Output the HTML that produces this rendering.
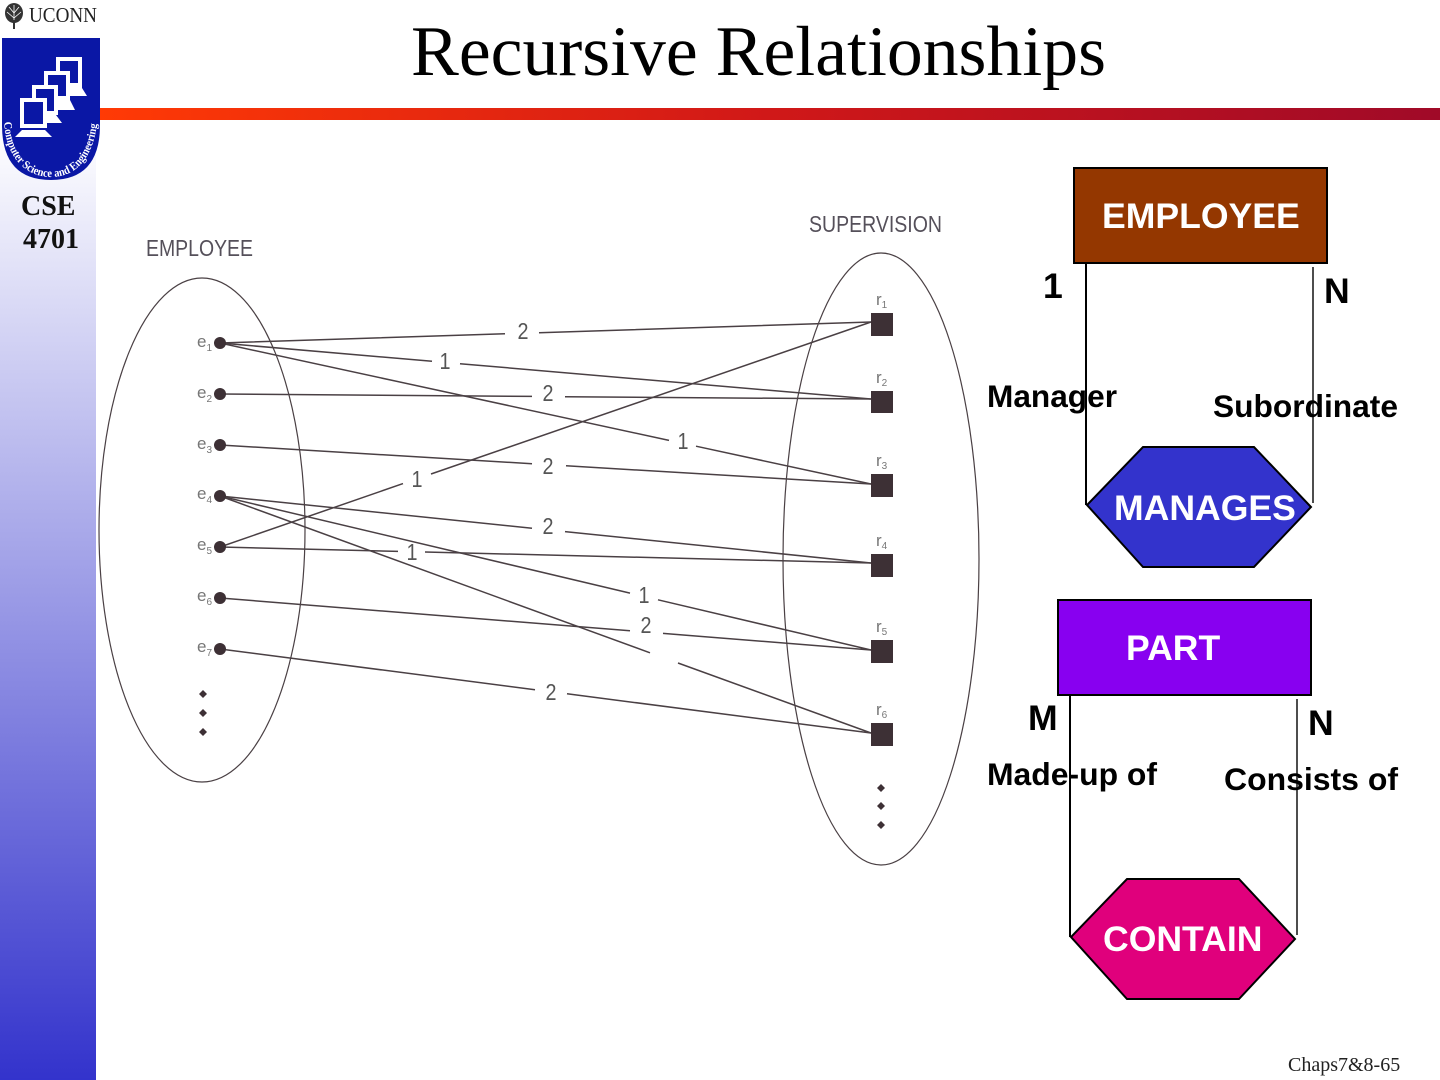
<!DOCTYPE html>
<html><head><meta charset="utf-8"><style>
html,body{margin:0;padding:0;background:#fff}
svg{display:block}
</style></head><body>
<svg xmlns="http://www.w3.org/2000/svg" width="1440" height="1080" viewBox="0 0 1440 1080">
<defs>
<linearGradient id="side" x1="0" y1="0" x2="0" y2="1"><stop offset="0" stop-color="#ffffff"/><stop offset="0.12" stop-color="#ffffff"/><stop offset="1" stop-color="#3333cc"/></linearGradient>
<linearGradient id="bar" x1="0" y1="0" x2="1" y2="0"><stop offset="0" stop-color="#ff3a05"/><stop offset="0.5" stop-color="#d01818"/><stop offset="1" stop-color="#a00a28"/></linearGradient>
<path id="arc" d="M4 122C6 160 28 177 51 177C76 177 96 158 98 112"/>
</defs>
<rect width="1440" height="1080" fill="#fff"/>
<rect x="0" y="0" width="96" height="1080" fill="url(#side)"/>
<rect x="100" y="108" width="1340" height="12" fill="url(#bar)"/>
<rect x="0" y="0" width="97" height="38" fill="#fff"/>
<!-- logo -->
<g fill="#333"><ellipse cx="14" cy="13" rx="9" ry="10"/><rect x="13" y="20" width="2" height="9"/></g>
<g stroke="#fff" stroke-width="0.8" fill="none"><path d="M14 5V20M9 7L14 13L19 7M7 12L14 18L21 12"/></g>
<text x="29" y="22" font-family="Liberation Serif" font-size="21" fill="#222" textLength="68" lengthAdjust="spacingAndGlyphs">UCONN</text>
<path d="M2 38H100V125Q100 180 51 180Q2 180 2 125Z" fill="#0a17a5"/>
<g fill="#fff">
<path d="M56 57H82V88H56Z"/><path d="M70 88H82L87 96H62Z"/>
</g>
<rect x="60" y="61" width="18" height="22" fill="#0a17a5"/>
<g fill="#fff"><path d="M44 71H70V100H44Z"/><path d="M58 100H70L75 110H50Z"/></g>
<rect x="48" y="75" width="18" height="21" fill="#0a17a5"/>
<g fill="#fff"><path d="M32 85H58V115H32Z"/><path d="M46 115H56L62 123H38Z"/></g>
<rect x="36" y="89" width="18" height="22" fill="#0a17a5"/>
<g fill="#fff"><path d="M20 98H47V128H20Z"/><path d="M22 130H45L52 137H15Z"/></g>
<rect x="24" y="102" width="19" height="22" fill="#0a17a5"/>
<text font-family="Liberation Serif" font-size="11.5" font-weight="bold" fill="#fff"><textPath href="#arc" textLength="158" lengthAdjust="spacingAndGlyphs">Computer Science and Engineering</textPath></text>
<g font-family="Liberation Serif" font-weight="bold" font-size="28" fill="#111">
<text x="21" y="215">CSE</text>
<text x="23" y="248">4701</text>
</g>
<text x="411" y="75" font-family="Liberation Serif" font-size="71" fill="#000" textLength="695" lengthAdjust="spacingAndGlyphs">Recursive Relationships</text>

<!-- left diagram -->
<g fill="none" stroke="#4a4044" stroke-width="1.2">
<ellipse cx="202" cy="530" rx="103" ry="252"/>
<ellipse cx="881" cy="559" rx="98" ry="306"/>
</g>
<g stroke="#4a4044" stroke-width="1.5" fill="none">
<path d="M220 343L505 333.8M539 332.7L871 322"/>
<path d="M220 343L432 361.3M460 363.7L871 399"/>
<path d="M220 343L669 440.4M696 446.2L871 484"/>
<path d="M220 394L532 396.4M565 396.7L871 399"/>
<path d="M220 445L532 463.7M566 465.8L871 484"/>
<path d="M220 496L532 528.2M565 531.6L871 563"/>
<path d="M220 496L630 593.1M658 599.8L871 650"/>
<path d="M220 496L650 652.8M678 663L871 733"/>
<path d="M220 547L403 483.6M431 474L871 322"/>
<path d="M220 547L398 551.4M425 552L871 563"/>
<path d="M220 598L630 630.8M663 633.4L871 650"/>
<path d="M220 649L535 689.7M567 693.8L871 733"/>
</g>
<g font-family="Liberation Sans" font-size="23" fill="#555" text-anchor="middle">
<text x="523" y="339" textLength="11" lengthAdjust="spacingAndGlyphs">2</text>
<text x="445" y="369" textLength="11" lengthAdjust="spacingAndGlyphs">1</text>
<text x="683" y="449" textLength="11" lengthAdjust="spacingAndGlyphs">1</text>
<text x="548" y="401" textLength="11" lengthAdjust="spacingAndGlyphs">2</text>
<text x="548" y="474" textLength="11" lengthAdjust="spacingAndGlyphs">2</text>
<text x="548" y="534" textLength="11" lengthAdjust="spacingAndGlyphs">2</text>
<text x="644" y="603" textLength="11" lengthAdjust="spacingAndGlyphs">1</text>
<text x="417" y="487" textLength="11" lengthAdjust="spacingAndGlyphs">1</text>
<text x="412" y="560" textLength="11" lengthAdjust="spacingAndGlyphs">1</text>
<text x="646" y="633" textLength="11" lengthAdjust="spacingAndGlyphs">2</text>
<text x="551" y="700" textLength="11" lengthAdjust="spacingAndGlyphs">2</text>
</g>
<g fill="#3d3035">
<circle cx="220" cy="343" r="6"/><circle cx="220" cy="394" r="6"/><circle cx="220" cy="445" r="6"/><circle cx="220" cy="496" r="6"/><circle cx="220" cy="547" r="6"/><circle cx="220" cy="598" r="6"/><circle cx="220" cy="649" r="6"/>
<path d="M203 690L207 694L203 698L199 694ZM203 709L207 713L203 717L199 713ZM203 728L207 732L203 736L199 732Z"/>
<rect x="871" y="313" width="22" height="23"/><rect x="871" y="391" width="22" height="22"/><rect x="871" y="474" width="22" height="23"/><rect x="871" y="554" width="22" height="23"/><rect x="871" y="640" width="22" height="23"/><rect x="871" y="723" width="22" height="23"/>
<path d="M881 784L885 788L881 792L877 788ZM881 802L885 806L881 810L877 806ZM881 821L885 825L881 829L877 825Z"/>
</g>
<g font-family="Liberation Sans" fill="#55505a">
<text x="146" y="256" font-size="23" textLength="107" lengthAdjust="spacingAndGlyphs">EMPLOYEE</text>
<text x="809" y="232" font-size="23" textLength="133" lengthAdjust="spacingAndGlyphs">SUPERVISION</text>
<g font-size="17" fill="#777">
<text x="197" y="347">e<tspan font-size="10" dy="4">1</tspan></text>
<text x="197" y="398">e<tspan font-size="10" dy="4">2</tspan></text>
<text x="197" y="449">e<tspan font-size="10" dy="4">3</tspan></text>
<text x="197" y="499">e<tspan font-size="10" dy="4">4</tspan></text>
<text x="197" y="550">e<tspan font-size="10" dy="4">5</tspan></text>
<text x="197" y="601">e<tspan font-size="10" dy="4">6</tspan></text>
<text x="197" y="652">e<tspan font-size="10" dy="4">7</tspan></text>
<text x="876" y="305">r<tspan font-size="10" dy="3">1</tspan></text>
<text x="876" y="383">r<tspan font-size="10" dy="3">2</tspan></text>
<text x="876" y="466">r<tspan font-size="10" dy="3">3</tspan></text>
<text x="876" y="546">r<tspan font-size="10" dy="3">4</tspan></text>
<text x="876" y="632">r<tspan font-size="10" dy="3">5</tspan></text>
<text x="876" y="715">r<tspan font-size="10" dy="3">6</tspan></text>
</g>
</g>

<!-- right top -->
<g stroke="#000" stroke-width="2">
<rect x="1074" y="168" width="253" height="95" fill="#943700"/>
<path d="M1086 263V505" fill="none"/>
<path d="M1313 267V503" fill="none" stroke="#222" stroke-width="1.6"/>
<polygon points="1143,447 1254,447 1311,507 1254,567 1143,567 1087,505" fill="#3333cc"/>
<rect x="1058" y="600" width="253" height="95" fill="#8800f0"/>
<path d="M1070 696V937" fill="none"/>
<path d="M1297 699V935" fill="none" stroke="#222" stroke-width="1.6"/>
<polygon points="1127,879 1239,879 1295,939 1239,999 1127,999 1071,937" fill="#e0007c"/>
</g>
<g font-family="Liberation Sans" font-weight="bold" font-size="35.6" fill="#fff">
<text x="1102" y="228">EMPLOYEE</text>
<text x="1114" y="520">MANAGES</text>
<text x="1126" y="660">PART</text>
<text x="1103" y="951">CONTAIN</text>
</g>
<g font-family="Liberation Sans" font-weight="bold" fill="#000">
<text x="1043" y="298" font-size="35.6">1</text>
<text x="1324" y="303" font-size="35.6">N</text>
<text x="1028" y="730" font-size="35.6">M</text>
<text x="1308" y="735" font-size="35.6">N</text>
<g font-size="31.5">
<text x="987" y="407" textLength="130" lengthAdjust="spacingAndGlyphs">Manager</text>
<text x="1213" y="417" textLength="185" lengthAdjust="spacingAndGlyphs">Subordinate</text>
<text x="987" y="785" textLength="170" lengthAdjust="spacingAndGlyphs">Made-up of</text>
<text x="1224" y="790" textLength="174" lengthAdjust="spacingAndGlyphs">Consists of</text>
</g>
</g>
<text x="1288" y="1071" font-family="Liberation Serif" font-size="20" fill="#222">Chaps7&amp;8-65</text>
</svg>
</body></html>
